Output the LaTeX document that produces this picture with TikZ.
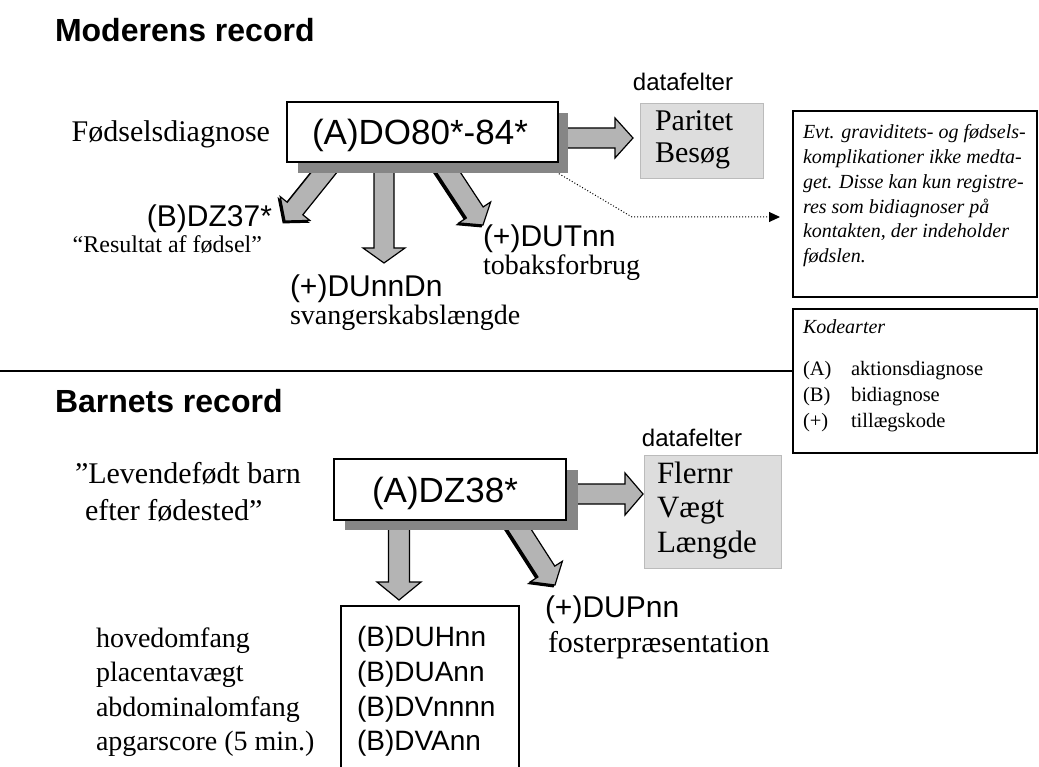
\documentclass[tikz,border=0pt]{standalone}
\usepackage{fontspec}
\setmainfont{Liberation Serif}
\newfontfamily\sansf{Liberation Sans}
\usetikzlibrary{calc,arrows.meta}
\newcommand\fsz[1]{\fontsize{#1}{#1}\selectfont}
\definecolor{agray}{HTML}{B4B4B4}
\definecolor{sgray}{HTML}{868686}
\definecolor{dgray}{HTML}{DDDDDD}
\definecolor{dborder}{HTML}{BBBBBB}
\tikzset{
  barrow/.style={fill=agray, draw=black, line width=1.2pt, line join=miter},
  dshadow/.style={preaction={fill=black, draw=black, line width=1.2pt, transform canvas={shift={(-1.8pt,-1.8pt)}}}},
  serif/.style={font=\rmfamily\fsz{#1}},
  sans/.style={font=\sansf\fsz{#1}},
  ital/.style={font=\rmfamily\itshape\fsz{#1}},
  codebox/.style={draw, fill=white, line width=1.2pt, anchor=north west},
  databox/.style={draw=dborder, fill=dgray, line width=0.8pt, anchor=north west},
  notebox/.style={draw, line width=2pt, anchor=north west}
}
% block arrow: from, to, shaft half width, head half width, head length, extra style
\newcommand\blockarrow[6]{%
  \draw[barrow,#6] ($(#1)!#3pt!90:(#2)$) -- ($(#2)!#5pt!(#1)!#3pt!-90:(#1)$)
   -- ($(#2)!#5pt!(#1)!#4pt!-90:(#1)$) -- (#2)
   -- ($(#2)!#5pt!(#1)!#4pt!90:(#1)$) -- ($(#2)!#5pt!(#1)!#3pt!90:(#1)$)
   -- ($(#1)!#3pt!-90:(#2)$) -- cycle;}
\begin{document}
\begin{tikzpicture}[x=1pt,y=-1pt, every node/.style={inner sep=0pt, outer sep=0pt}]
\useasboundingbox (0,0) rectangle (1039,767);
\fill[white] (0,0) rectangle (1039,767);

% ---------- titles ----------
\node[anchor=base west, font=\sansf\bfseries\fsz{32}] (t1) at (55,42) {Moderens record};
\node[anchor=base west, font=\sansf\bfseries\fsz{32}] (t2) at (55,412) {Barnets record};

% ---------- block arrows (mother) ----------
\coordinate (a1s) at (560,138); \coordinate (a1e) at (633,138);
\blockarrow{a1s}{a1e}{10}{20}{18}{}
\coordinate (a2s) at (384,160); \coordinate (a2e) at (384,263);
\blockarrow{a2s}{a2e}{10}{21}{15}{}
\coordinate (a3s) at (338,155); \coordinate (a3e) at (285,221);
\blockarrow{a3s}{a3e}{10}{19}{16}{dshadow}
\coordinate (a4s) at (437,155); \coordinate (a4e) at (483,225);
\blockarrow{a4s}{a4e}{10}{19}{15}{dshadow}

% dotted connector
\coordinate (d0) at (546,166); \coordinate (d1) at (632,217); \coordinate (d2) at (780,217);
\draw[dotted, line width=1pt, -{Triangle[length=11pt,width=10pt]}] (d0) -- (d1) -- (d2);

% main box mother
\fill[sgray] (298,113) rectangle (568,173);
\node[codebox, minimum width=271pt, minimum height=60pt] (box1) at (287,102) {};
\node[anchor=base, font=\sansf\fsz{35}] (box1t) at (420,145) {(A)DO80*-84*};

% labels mother
\node[anchor=base east, serif=30] (fd) at (270,142) {Fødselsdiagnose};
\node[anchor=base east, sans=30] (dz37) at (272,227) {(B)DZ37*};
\node[anchor=base east, serif=24] (res) at (262,253) {“Resultat af fødsel”};
\node[anchor=base west, sans=30] (dunn) at (290,297) {(+)DUnnDn};
\node[anchor=base west, serif=28] (svl) at (290,325) {svangerskabslængde};
\node[anchor=base west, sans=30] (dut) at (483,247) {(+)DUTnn};
\node[anchor=base west, serif=28] (tob) at (483,275) {tobaksforbrug};

% datafelter mother
\node[anchor=base, sans=24] (df1l) at (683,91) {datafelter};
\node[databox, minimum width=123pt, minimum height=75pt] (df1) at (640,103) {};
\node[anchor=base west, serif=30] (par) at (655,131) {Paritet};
\node[anchor=base west, serif=30] (bes) at (655,163) {Besøg};

% note box
\node[notebox, minimum width=244pt, minimum height=186pt] (note) at (793,111) {};
\node[anchor=base west, ital=20] (n1) at (803,139) {Evt. graviditets- og fødsels-};
\node[anchor=base west, ital=20] (n2) at (803,164) {komplikationer ikke medta-};
\node[anchor=base west, ital=20] (n3) at (803,188.6) {get. Disse kan kun registre-};
\node[anchor=base west, ital=20] (n4) at (803,213.4) {res som bidiagnoser på};
\node[anchor=base west, ital=20] (n5) at (803,238) {kontakten, der indeholder};
\node[anchor=base west, ital=20] (n6) at (803,263) {fødslen.};

% Kodearter box
\node[notebox, minimum width=244pt, minimum height=144pt] (kod) at (793,309) {};
\node[anchor=base west, ital=20] (k0) at (803,334) {Kodearter};
\node[anchor=base west, serif=20.5] (k1a) at (803,375) {(A)};
\node[anchor=base west, serif=20.5] (k1b) at (851,375) {aktionsdiagnose};
\node[anchor=base west, serif=20.5] (k2a) at (803,401) {(B)};
\node[anchor=base west, serif=20.5] (k2b) at (851,401) {bidiagnose};
\node[anchor=base west, serif=20.5] (k3a) at (803,427) {(+)};
\node[anchor=base west, serif=20.5] (k3b) at (851,427) {tillægskode};

% separator line
\coordinate (hl) at (0,371);
\draw[line width=1.2pt] (hl) -- (kod.west |- hl);

% ---------- block arrows (child) ----------
\coordinate (b1s) at (570,494); \coordinate (b1e) at (643,494);
\blockarrow{b1s}{b1e}{10}{21}{18}{}
\coordinate (b2s) at (399,525); \coordinate (b2e) at (399,600);
\blockarrow{b2s}{b2e}{10.5}{22}{18}{}
\coordinate (b3s) at (512,518); \coordinate (b3e) at (555,585);
\blockarrow{b3s}{b3e}{10}{19}{16}{dshadow}

% main box child
\fill[sgray] (345,470) rectangle (578,530);
\node[codebox, minimum width=232pt, minimum height=61pt] (box2) at (334,459) {};
\node[anchor=base, font=\sansf\fsz{35}] (box2t) at (445,502) {(A)DZ38*};

% labels child
\node[anchor=base west, serif=30] (lev1) at (75,483) {”Levendefødt barn};
\node[anchor=base west, serif=30] (lev2) at (85,520) {efter fødested”};

\node[anchor=base, sans=24] (df2l) at (692,446) {datafelter};
\node[databox, minimum width=137pt, minimum height=113pt] (df2) at (644,455) {};
\node[anchor=base west, serif=31] (fl) at (657,483) {Flernr};
\node[anchor=base west, serif=31] (vg) at (657,517) {Vægt};
\node[anchor=base west, serif=31] (lg) at (657,552) {Længde};

\node[anchor=base west, sans=30] (dup) at (545,617) {(+)DUPnn};
\node[anchor=base west, serif=30] (fos) at (548,652) {fosterpræsentation};

% codes box (cut at bottom)
\draw[line width=1.2pt] (341,770) -- (341,606) -- (519,606) -- (519,770);
\node[anchor=base west, sans=28] (c1) at (357,646) {(B)DUHnn};
\node[anchor=base west, sans=28] (c2) at (357,681) {(B)DUAnn};
\node[anchor=base west, sans=28] (c3) at (357,716) {(B)DVnnnn};
\node[anchor=base west, sans=28] (c4) at (357,750) {(B)DVAnn};

\node[anchor=base west, serif=28] (l1) at (96,647) {hovedomfang};
\node[anchor=base west, serif=28] (l2) at (96,681) {placentavægt};
\node[anchor=base west, serif=28] (l3) at (96,716) {abdominalomfang};
\node[anchor=base west, serif=28] (l4) at (96,750) {apgarscore (5 min.)};
\end{tikzpicture}
\end{document}
